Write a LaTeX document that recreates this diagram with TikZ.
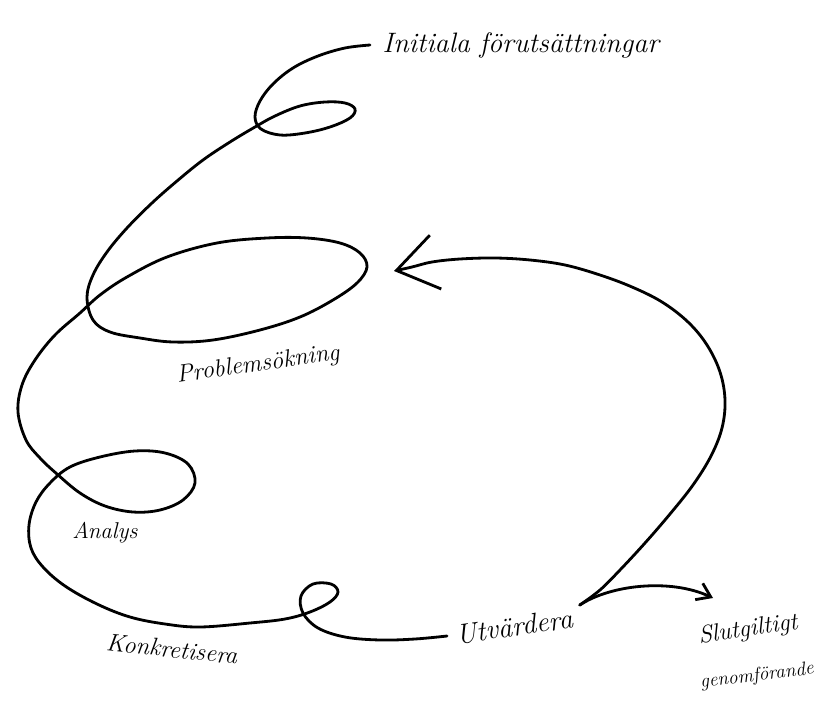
\documentclass[tikz,border=0pt]{standalone}
\usetikzlibrary{arrows.meta}

\tikzset{
  hand/.style={font=\fontsize{#1}{#1}\selectfont\itshape, inner sep=1pt},
  spiral/.style={line width=1.6pt, line join=round, line cap=round},
}

\begin{document}
\begin{tikzpicture}[x=0.02cm, y=-0.02cm]
            \useasboundingbox (0,0) rectangle (818,703);

            % labels
            \node[hand=16, anchor=west, inner xsep=7pt] (init) at (370,45) {Initiala förutsättningar};
            \node[hand=14, rotate=8] (prob) at (258,365) {Problemsökning};
            \node[hand=13] (analys) at (105,533) {Analys};
            \node[hand=14, rotate=-6] (konk) at (172,649) {Konkretisera};
            \node[hand=16, rotate=8, anchor=west, inner xsep=5pt] (utv) at (447,636) {Utvärdera};
            \node[hand=14, rotate=8] (slut) at (748,630) {Slutgiltigt};
            \node[hand=11, rotate=7] (genom) at (757,676) {genomförande};

            % free ends of the two arrows
            \coordinate (retur) at (394,271);
            \coordinate (slutpil) at (713,598);

            % the spiral
            \draw[spiral] plot[smooth, tension=0.6] coordinates {
                (init.west) (345,48) (318,56) (293,68) (273,84) (260,101)
                (255,117) (261,129) (280,135) (305,133) (330,127) (350,118)
                (355,109) (345,103) (325,102) (300,106) (275,116) (255,127)
                (230,142) (203,160) (177,181) (152,203) (127,228) (107,252)
                (93,275) (87,297) (93,320) (110,332) (140,338) (173,342)
                (213,340) (260,330) (300,317) (333,300) (357,283) (367,267)
                (360,253) (340,243) (307,238) (267,238) (217,243) (167,257)
                (127,277) (100,295) (80,313) (55,335) (35,360) (22,385)
                (18,412) (26,440) (40,458) (57,474) (80,493) (105,506)
                (133,512) (160,510) (183,500) (195,483) (188,464) (165,453)
                (135,451) (100,457) (70,467) (50,483) (36,502) (29,525)
                (31,548) (43,567) (65,586) (97,604) (130,617) (165,624)
                (200,627) (250,623) (285,619) (310,612) (330,602) (338,592)
                (331,584) (313,584) (301,596) (303,613) (318,628) (345,637)
                (380,640) (415,639) (utv.west)
            };

            % back to Problemsökning
            \draw[spiral, -{Straight Barb[length=8mm, width=11mm]}] plot[smooth, tension=0.6] coordinates {
                (utv.north east) (600,590) (620,570) (645,543) (670,514)
                (693,485) (711,456) (722,428) (725,400) (720,372) (707,345)
                (688,322) (662,302) (632,287) (600,275) (565,265) (530,260)
                (495,258) (460,259) (432,262) (412,267) (retur)
            };

            % out to Slutgiltigt
            \draw[spiral, -{Straight Barb[length=2.6mm, width=3.6mm]}] (utv.north east)
                .. controls (610,585) and (670,578) .. (slutpil);
        \end{tikzpicture}
\end{document}
